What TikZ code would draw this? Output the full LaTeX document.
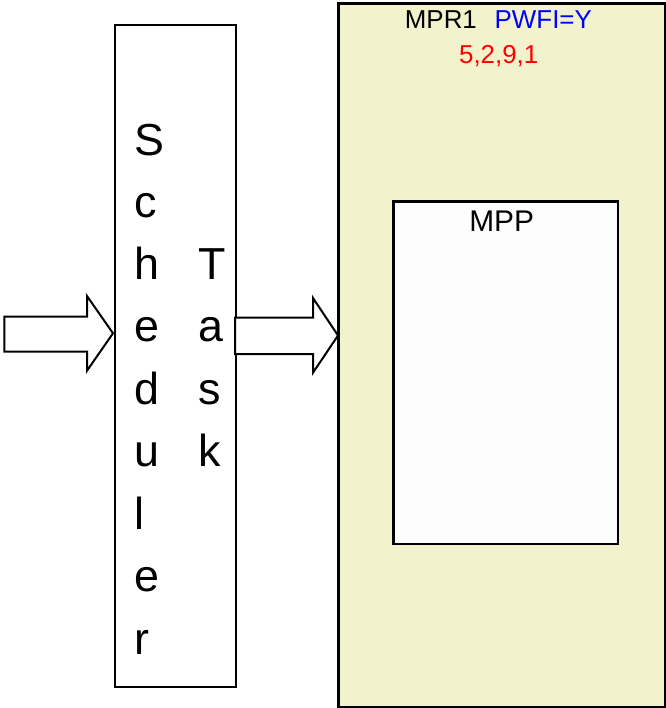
\documentclass[tikz,border=0pt]{standalone}
\usepackage{fontspec}
\setmainfont{Liberation Sans}
\definecolor{mprfill}{RGB}{242,243,204}
\definecolor{mppfill}{RGB}{253,253,253}
\begin{document}
\begin{tikzpicture}[x=1bp,y=-1bp,
  boxstyle/.style={draw=black, inner sep=0pt, anchor=north west},
  letter/.style={inner sep=0pt, anchor=base west, font=\fontsize{45}{54}\selectfont},
  blockarrow/.style={draw=black, fill=white, line width=2bp, line join=miter},
  lbl/.style={inner sep=0pt, font=\fontsize{26}{31}\selectfont}]
\useasboundingbox (0,0) rectangle (666,708);
% boxes
\node (sched) [boxstyle, line width=2bp, fill=white, minimum width=120.7bp, minimum height=662bp] at (114.3,24) {};
\node (mpr) [boxstyle, line width=2.6bp, fill=mprfill, minimum width=327bp, minimum height=704bp] at (337,2) {};
\node (mpp) [boxstyle, line width=2.6bp, fill=mppfill, minimum width=224.4bp, minimum height=342.7bp] at (392.3,200) {};
% Scheduler letters
\node (s1) [letter] at (134.5,155) {S};
\node (s2) [letter] at (134.5,217) {c};
\node (s3) [letter] at (134.5,279) {h};
\node (s4) [letter] at (134.5,341) {e};
\node (s5) [letter] at (134.5,404) {d};
\node (s6) [letter] at (134.5,466.5) {u};
\node (s7) [letter] at (134.5,529) {l};
\node (s8) [letter] at (134.5,591) {e};
\node (s9) [letter] at (134.5,654) {r};
% Task letters
\node (t1) [letter] at (198,279) {T};
\node (t2) [letter] at (198,341) {a};
\node (t3) [letter] at (198,404) {s};
\node (t4) [letter] at (198,466.5) {k};
% MPR1 labels
\node (mprname) [lbl, anchor=base west] at (404.7,28.3) {MPR1};
\node (pwfi) [lbl, anchor=base west, text=blue] at (494.5,28.3) {PWFI=Y};
\node (nums) [lbl, anchor=base, text=red] at (498.7,63.5) {5,2,9,1};
\node (mppname) [inner sep=0pt, anchor=base, font=\fontsize{30}{36}\selectfont] at (501.7,231.7) {MPP};
% block arrows
\draw[blockarrow] (4.3,316.7) -- (87,316.7) -- (87,296) -- (113,333.3) -- (87,370.7) -- (87,351.7) -- (4.3,351.7) -- cycle;
\draw[blockarrow] (235,317.7) -- (313,317.7) -- (313,298) -- (338,335.5) -- (313,372.7) -- (313,354) -- (235,354) -- cycle;
\end{tikzpicture}
\end{document}
